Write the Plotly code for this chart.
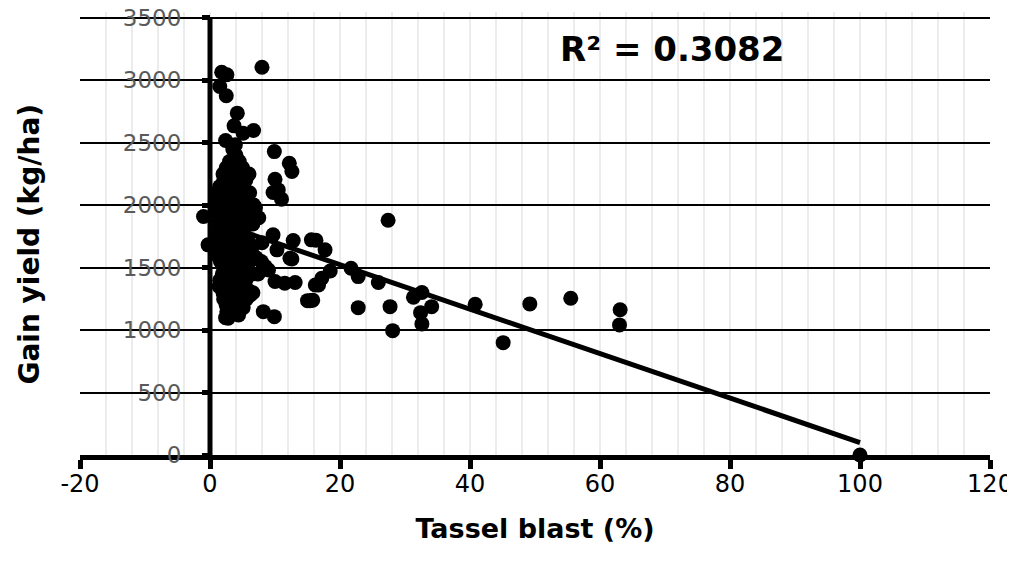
import plotly.graph_objects as go

# Tassel blast (%) vs grain yield (kg/ha)
tassel_blast = [
    # outliers above / around the main cluster
    8.0, 1.8, 2.6, 1.5, 2.5, 4.2, 3.7, 5.1, 6.7, 2.4, 3.9, 9.9, 12.2, 12.6,
    10.0, 9.7, 11.0, 10.5, 6.7, -1.0, 9.7, 12.8, 15.6, -0.3, 10.3, 12.3, 8.5, 9.0,
    10.0, 11.5, 13.1, 16.2, 15.4, 6.2, 8.2, 9.9, 2.8, 4.4,
    # right-hand spread
    27.4, 16.3, 17.7, 12.6, 18.5, 17.2, 16.7, 15.0, 15.8, 21.7, 22.8, 25.9,
    22.8, 27.7, 28.1, 31.3, 32.6, 34.1, 32.4, 32.6, 40.8, 45.1, 49.2, 55.5,
    63.1, 63.0, 100.0,
    # dense cluster
    1.0, 1.0, 0.9, 1.1, 1.0, 0.9, 1.1,
    1.5, 1.4, 1.6, 1.5, 1.4, 1.6, 1.5, 1.4,
    2.0, 2.1, 1.9, 2.0, 2.1, 1.9, 2.0, 2.1, 1.9, 2.0, 2.1,
    2.5, 2.6, 2.4, 2.5, 2.6, 2.4, 2.5, 2.6, 2.4, 2.5, 2.6, 2.4,
    3.0, 3.1, 2.9, 3.0, 3.1, 2.9, 3.0, 3.1, 2.9, 3.0, 3.1, 2.9,
    3.5, 3.6, 3.4, 3.5, 3.6, 3.4, 3.5, 3.6, 3.4, 3.5, 3.6, 3.4,
    4.0, 4.1, 3.9, 4.0, 4.1, 3.9, 4.0, 4.1, 3.9, 4.0, 4.1, 3.9,
    4.5, 4.6, 4.4, 4.5, 4.6, 4.4, 4.5, 4.6, 4.4, 4.5, 4.6,
    5.0, 5.1, 4.9, 5.0, 5.1, 4.9, 5.0, 5.1, 4.9, 5.0, 5.1,
    5.5, 5.6, 5.4, 5.5, 5.6, 5.4, 5.5, 5.6,
    6.0, 6.1, 5.9, 6.0, 6.1, 5.9,
    6.5, 6.6, 6.4, 6.5, 6.6,
    7.0, 7.1, 7.5, 7.4, 8.0, 7.9,
]
grain_yield = [
    3106, 3065, 3045, 2951, 2877, 2738, 2636, 2577, 2599, 2519, 2484, 2430, 2337, 2270,
    2209, 2102, 2049, 2123, 2003, 1910, 1763, 1717, 1723, 1683, 1643, 1576, 1509, 1482,
    1389, 1376, 1381, 1362, 1236, 1282, 1148, 1108, 1095, 1122,
    1880, 1720, 1643, 1570, 1474, 1416, 1362, 1236, 1240, 1496, 1429, 1381,
    1180, 1188, 996, 1263, 1301, 1188, 1140, 1050, 1207, 900, 1210, 1256,
    1163, 1042, 0,
    2100, 2050, 1950, 1850, 1750, 1650, 1600,
    2150, 2000, 1900, 1800, 1700, 1550, 1400, 1350,
    2250, 2200, 2100, 1950, 1850, 1750, 1650, 1500, 1450, 1300, 1250,
    2300, 2150, 2050, 1900, 1800, 1700, 1600, 1400, 1350, 1200, 1150, 1100,
    2350, 2250, 2100, 2000, 1850, 1750, 1650, 1550, 1450, 1300, 1250, 1200,
    2450, 2200, 2050, 1950, 1800, 1700, 1600, 1500, 1400, 1350, 1250, 1150,
    2400, 2300, 2150, 2000, 1900, 1750, 1650, 1550, 1450, 1300, 1200, 1150,
    2350, 2250, 2100, 1950, 1850, 1700, 1600, 1500, 1400, 1250, 1200,
    2300, 2150, 2050, 1900, 1800, 1650, 1550, 1450, 1350, 1300, 1180,
    2200, 2000, 1850, 1750, 1600, 1500, 1400, 1250,
    2250, 2100, 1950, 1700, 1550, 1320,
    2000, 1850, 1650, 1450, 1300,
    1980, 1580, 1900, 1450, 1700, 1550,
]

x_ticks = [-20, 0, 20, 40, 60, 80, 100, 120]
x_tick_labels = ["-20", "0", "20", "40", "60", "80", "100", "120"]
y_ticks = [0, 500, 1000, 1500, 2000, 2500, 3000, 3500]

# linear trendline
trend_intercept = 1880
trend_slope = -17.8
trend_x = [0, 100]
trend_y = [trend_intercept + trend_slope * v for v in trend_x]
r_squared = "0.3082"

FONT = "DejaVu Sans"

fig = go.Figure()
fig.add_trace(go.Scatter(
    x=tassel_blast, y=grain_yield, mode="markers",
    marker=dict(color="black", size=15),
    cliponaxis=False, showlegend=False,
))
fig.add_trace(go.Scatter(
    x=trend_x, y=trend_y, mode="lines",
    line=dict(color="black", width=5),
    cliponaxis=False, showlegend=False,
))

# the page adds an 8px body margin, so the figure is 8px smaller and shifted;
# the y range goes a bit past 3500 so the top gridline is still drawn
fig.update_layout(
    width=1007, height=555,
    margin=dict(l=72, r=25, t=4, b=108),
    paper_bgcolor="white", plot_bgcolor="white",
    font=dict(family=FONT, color="black"),
    xaxis=dict(
        range=[-20, 120], tickvals=x_ticks, ticktext=x_tick_labels,
        showgrid=True, gridcolor="#ececec", gridwidth=2,
        minor=dict(dtick=4, tick0=0, showgrid=True, gridcolor="#ececec", gridwidth=2),
        zeroline=False, automargin=False, ticklabeloverflow="allow",
        showline=True, linecolor="black", linewidth=5,
        ticks="outside", ticklen=9, tickwidth=5, tickcolor="black",
        tickfont=dict(size=24, color="black"),
        ticklabelstandoff=-6,
        title=dict(text="<b>Tassel blast (%)</b>", font=dict(size=27), standoff=24),
    ),
    yaxis=dict(
        range=[0, 3548], tickvals=y_ticks,
        anchor="free", position=130 / 910, side="left",
        showgrid=True, gridcolor="black", gridwidth=2,
        zeroline=False, automargin=False, ticklabeloverflow="allow",
        showline=False,
        ticks="outside", ticklen=8, tickwidth=5, tickcolor="black",
        tickfont=dict(size=23, color="#5a5a5a"),
        ticklabelstandoff=16,
    ),
)

# vertical axis line at x = 0, from 0 to the top tick
fig.add_shape(
    type="line", xref="x", yref="y",
    x0=0, x1=0, y0=0, y1=y_ticks[-1],
    line=dict(color="black", width=5), layer="above",
)

fig.add_annotation(
    text="<b>Gain yield (kg/ha)</b>", textangle=-90,
    xref="paper", yref="paper", x=-50 / 910, y=0.475,
    xanchor="center", yanchor="middle", showarrow=False,
    font=dict(size=28, color="black"),
)
fig.add_annotation(
    text="<b>R² = " + r_squared + "</b>",
    xref="x", yref="y", x=71, y=3250,
    xanchor="center", yanchor="middle", showarrow=False,
    font=dict(size=34, color="black"),
)

fig.write_html("out.html")
